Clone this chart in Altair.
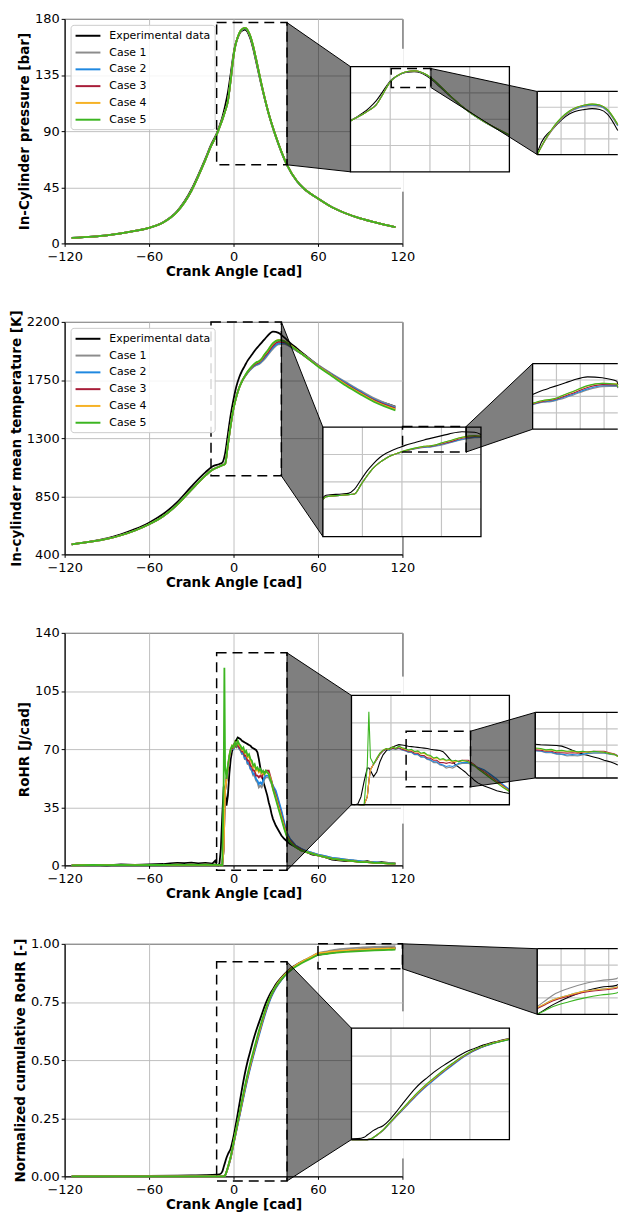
import altair as alt
import pandas as pd

SERIES = ["Experimental data", "Case 1", "Case 2", "Case 3", "Case 4", "Case 5"]
COLORS = ["#000000", "#8c8c8c", "#1f88e0", "#a81d38", "#f6b225", "#3cb521"]
XTITLE = "Crank Angle [cad]"
VIS = 273.0  # right edge of visible area (in crank-angle units of the main axis)

# ---------------- Panel 1 : in-cylinder pressure [bar]
PA = [-115, -100, -90, -80, -70, -60, -50, -40, -30, -25, -20, -16, -12, -10, -8, -6, -4, -2, 0, 1,
      3, 5, 7, 8, 9, 10, 12, 14, 16, 20, 25, 30, 38, 45, 50, 60, 70, 80, 90, 100, 115]
P_EXP = [4.5, 5.5, 6.5, 8, 10, 12.5, 17, 26, 43, 55, 68, 79, 88, 94, 101, 110, 121, 136, 152, 158,
         165, 169.5, 171, 171.3, 171, 169.5, 164, 156, 146, 126, 104, 86, 63, 50, 44, 36, 29, 24, 20, 17, 13]
P_C1 = [4.5, 5.5, 6.5, 8, 10, 12.5, 16.8, 25.5, 42, 54, 67, 78, 87, 93, 99, 106, 114, 131, 150, 157,
        165, 170, 172, 172.3, 172, 170.5, 165.5, 157.5, 147.5, 126.5, 103.5, 85.5, 62.5, 49.8, 43.8, 36, 29, 24, 20, 17, 13]
P_C2 = [4.5, 5.5, 6.5, 8, 10, 12.5, 16.8, 25.5, 42, 54, 67, 78, 87, 93, 99, 106, 114, 131, 150, 157,
        165.2, 170.2, 172.2, 172.5, 172.2, 170.7, 165.7, 157.7, 147.7, 126.7, 103.7, 85.7, 62.7, 49.9, 43.9, 36, 29, 24, 20, 17, 13]
P_C3 = [4.5, 5.5, 6.5, 8, 10, 12.5, 16.8, 25.5, 42, 54, 67, 78, 87, 93, 99, 106, 114, 131, 150, 157,
        165.3, 170.3, 172.4, 172.7, 172.4, 170.9, 165.9, 157.9, 148, 127, 104, 86, 63, 50, 44, 36, 29, 24, 20, 17, 13]
P_C4 = [4.5, 5.5, 6.5, 8, 10, 12.5, 16.8, 25.5, 42, 54, 67, 78, 87, 93, 99, 106, 114, 131, 150, 157,
        165.4, 170.4, 172.5, 172.8, 172.5, 171, 166, 158, 148, 127, 104, 86, 63, 50, 44, 36, 29, 24, 20, 17, 13]
P_C5 = [4.5, 5.5, 6.5, 8, 10, 12.5, 16.8, 25.5, 42, 54, 67, 78, 87, 93, 99, 106, 114, 131, 150, 157,
        165.5, 170.5, 172.5, 172.8, 172.5, 171, 166, 158, 148, 127, 104, 86, 63, 50, 44, 36, 29, 24, 20, 17, 13]

# ---------------- Panel 2 : in-cylinder mean temperature [K]
TA = [-115, -100, -90, -80, -70, -60, -50, -40, -30, -20, -15, -10, -8, -6, -4, -2, 0, 2, 4, 6,
      8, 10, 13, 16, 18, 20, 22, 24, 28, 32, 36, 40, 45, 50, 60, 70, 80, 90, 100, 115]
T_EXP = [478, 502, 524, 555, 595, 645, 712, 805, 925, 1035, 1080, 1100, 1110, 1180, 1330, 1480, 1600, 1700, 1770, 1820,
         1860, 1900, 1945, 1990, 2015, 2040, 2065, 2090, 2125, 2115, 2080, 2040, 1995, 1950, 1865, 1790, 1720, 1655, 1600, 1545]
T_C1 = [478, 500, 520, 548, 585, 633, 695, 785, 900, 1010, 1055, 1080, 1090, 1100, 1250, 1400, 1530, 1620, 1690, 1740,
        1775, 1805, 1840, 1865, 1872, 1890, 1912, 1938, 1992, 2025, 2030, 2010, 1975, 1942, 1866, 1797, 1732, 1668, 1608, 1542]
T_C2 = [478, 500, 520, 548, 585, 633, 695, 785, 900, 1010, 1055, 1080, 1090, 1100, 1250, 1400, 1530, 1620, 1690, 1740,
        1777, 1808, 1844, 1870, 1878, 1897, 1922, 1947, 2002, 2034, 2037, 2014, 1977, 1942, 1863, 1792, 1725, 1660, 1598, 1534]
T_C3 = [478, 500, 520, 548, 585, 633, 695, 785, 900, 1010, 1055, 1080, 1090, 1100, 1250, 1400, 1530, 1620, 1690, 1740,
        1778, 1811, 1849, 1877, 1886, 1905, 1932, 1958, 2016, 2045, 2043, 2017, 1978, 1940, 1860, 1787, 1718, 1653, 1592, 1528]
T_C4 = [478, 500, 520, 548, 585, 633, 695, 785, 900, 1010, 1055, 1080, 1090, 1100, 1250, 1400, 1530, 1620, 1690, 1740,
        1780, 1814, 1854, 1884, 1893, 1914, 1945, 1972, 2032, 2060, 2054, 2024, 1982, 1942, 1858, 1784, 1712, 1647, 1586, 1523]
T_C5 = [478, 500, 520, 548, 585, 633, 695, 785, 900, 1010, 1055, 1080, 1090, 1100, 1250, 1400, 1530, 1620, 1690, 1740,
        1780, 1815, 1855, 1885, 1895, 1915, 1948, 1975, 2035, 2058, 2050, 2020, 1980, 1940, 1855, 1780, 1705, 1640, 1580, 1515]

# ---------------- Panel 3 : RoHR [J/cad]
RA = [-115, -100, -90, -80, -70, -60, -50, -45, -40, -35, -30, -25, -20, -15, -13, -12, -11, -10, -9, -8,
      -7, -6.5, -6, -5, -4, -3, -2, -1, 0, 1, 2, 3, 4, 5, 6, 7, 8, 9, 10, 11,
      12, 13, 14, 15, 16, 17, 18, 19, 20, 21, 22, 23, 24, 25, 26, 27, 28, 30, 32, 34,
      36, 38, 40, 44, 48, 52, 56, 60, 65, 70, 75, 80, 85, 90, 95, 100, 105, 110, 115]
R_EXP = [0, 0.3, 0, 0.5, 0.2, 0.6, 0.8, 1.2, 1.5, 1.3, 1.6, 1.2, 1.5, 1.0, 2.8, 0.5, 0, 1, 10, 30,
         47, 47, 44, 36, 42, 55, 64, 69, 72, 74, 75.5, 77, 76.5, 76, 75, 74.5, 74, 73.5, 73, 72.5,
         72, 71, 70.5, 70, 69.5, 68, 64, 59, 55, 51, 48, 45, 42, 38, 35, 31, 28, 24, 21, 18,
         16, 14.5, 13, 11, 9, 8, 6.5, 6, 5, 3.5, 3, 2.5, 2.8, 2, 2.5, 1.5, 2, 1.5, 1]
R_C1 = [0, 0.2, 0.1, 0.2, 0.1, 0.3, 0.2, 0.3, 0.4, 0.3, 0.4, 0.3, 0.4, 0.3, 0.4, 0.3, 0.3, 0.3, 0.2, 0,
        10, 30, 45, 52, 58, 65, 69, 71, 70, 72, 71, 72, 70, 69, 67, 67, 64, 64, 61, 61,
        58, 57, 54, 54, 51, 50, 47, 48, 47, 49, 52, 53, 53, 53, 51, 49, 47, 44, 38, 32,
        25, 19, 16, 12, 10, 8.5, 7.5, 6.5, 5.5, 4.5, 4, 3.5, 3, 2.5, 2, 2, 1.5, 1.5, 1]
R_C2 = [0, 0.2, 0.1, 0.2, 0.1, 0.3, 0.2, 0.3, 0.4, 0.3, 0.4, 0.3, 0.4, 0.3, 0.4, 0.3, 0.3, 0.3, 0.2, 0,
        10, 30, 45, 52, 58, 65, 69, 71, 70, 72, 71.5, 72.5, 70.5, 69.5, 67.5, 67.5, 64.5, 64.5, 61.5, 61.5,
        58.5, 57.5, 55, 55, 52, 51, 49, 50, 49, 51, 53, 54, 54, 54, 52, 50, 48, 45, 39, 33,
        26, 19.5, 16, 12, 10, 8.5, 7.5, 6.5, 5.5, 4.5, 4, 3.5, 3, 2.5, 2, 2, 1.5, 1.5, 1]
R_C3 = [0, 0.2, 0.1, 0.2, 0.1, 0.3, 0.2, 0.3, 0.4, 0.3, 0.4, 0.3, 0.4, 0.3, 0.4, 0.3, 0.3, 0.3, 0.2, 0,
        10, 30, 45, 52, 58, 65, 69, 71, 70.5, 72.5, 71.5, 73, 71, 70, 68.5, 68.5, 66, 66, 63, 63,
        60, 59.5, 57, 57, 54, 54, 53, 54, 53, 55, 56, 57, 57, 57, 54, 51, 47, 42, 36, 30,
        24, 18, 15, 11.5, 9.5, 8, 7, 6, 5, 4, 3.5, 3, 2.5, 2, 2, 1.5, 1.5, 1, 1]
R_C4 = [0, 0.2, 0.1, 0.2, 0.1, 0.3, 0.2, 0.3, 0.4, 0.3, 0.4, 0.3, 0.4, 0.3, 0.4, 0.3, 0.3, 0.3, 0.2, 0,
        10, 30, 45, 52, 59, 66, 70, 72, 71, 74, 72.5, 74.5, 72.5, 71.5, 69.5, 70, 67.5, 68, 65, 66,
        63, 62, 59, 60, 57, 58, 56, 57, 55, 56, 55, 56, 56, 55, 53, 50, 46, 41, 35, 29,
        23, 17.5, 14.5, 11, 9, 8, 7, 6, 5, 4, 3.5, 3, 2.5, 2, 2, 1.5, 1.5, 1, 1]
R_C5 = [0, 0.2, 0.1, 0.2, 0.1, 0.3, 0.2, 0.3, 0.4, 0.3, 0.4, 0.3, 0.4, 0.3, 0.4, 0.3, 0.3, 0.3, 0.2, 0,
        50, 119, 60, 52, 60, 66, 70, 72, 71, 74, 72, 75, 73, 72, 70, 71, 68, 69, 66, 67,
        64, 63, 60, 61, 58, 59, 57, 58, 56, 57, 55, 57, 56, 55, 52, 50, 46, 40, 34, 28,
        22, 17, 14, 11, 9, 8, 7, 6, 5, 4, 3.5, 3, 2.5, 2, 2, 1.5, 1.5, 1, 1]

# ---------------- Panel 4 : normalized cumulative RoHR [-]
CA = [-115, -100, -80, -60, -40, -30, -20, -15, -12, -10, -8, -7, -6, -5, -4, -2, 0, 2, 4, 6,
      8, 10, 12, 14, 16, 18, 20, 22, 24, 26, 28, 30, 34, 38, 42, 46, 50, 55, 60, 65,
      70, 80, 90, 100, 110, 115]
C_EXP = [0, 0, 0.001, 0.002, 0.003, 0.004, 0.005, 0.006, 0.007, 0.008, 0.02, 0.04, 0.06, 0.08, 0.095, 0.12, 0.17, 0.235, 0.305, 0.375,
         0.44, 0.495, 0.54, 0.585, 0.625, 0.66, 0.695, 0.73, 0.76, 0.785, 0.805, 0.825, 0.855, 0.88, 0.9, 0.915, 0.928, 0.941, 0.952, 0.957,
         0.962, 0.97, 0.976, 0.98, 0.982, 0.983]
C_C1 = [0, 0, 0, 0, 0, 0, 0, 0, 0, 0, 0, 0, 0.004, 0.018, 0.037, 0.08, 0.14, 0.198, 0.256, 0.314,
        0.372, 0.426, 0.476, 0.522, 0.567, 0.611, 0.653, 0.694, 0.731, 0.763, 0.79, 0.812, 0.847, 0.875, 0.897, 0.914, 0.928, 0.944, 0.96, 0.966,
        0.972, 0.979, 0.984, 0.987, 0.989, 0.99]
C_C2 = [0, 0, 0, 0, 0, 0, 0, 0, 0, 0, 0, 0, 0.004, 0.018, 0.037, 0.079, 0.138, 0.195, 0.252, 0.309,
        0.366, 0.42, 0.47, 0.516, 0.561, 0.605, 0.648, 0.689, 0.727, 0.76, 0.787, 0.81, 0.845, 0.873, 0.895, 0.912, 0.926, 0.942, 0.958, 0.963,
        0.967, 0.972, 0.976, 0.978, 0.98, 0.981]
C_C3 = [0, 0, 0, 0, 0, 0, 0, 0, 0, 0, 0, 0, 0.004, 0.019, 0.038, 0.082, 0.141, 0.2, 0.258, 0.316,
        0.375, 0.429, 0.479, 0.525, 0.57, 0.614, 0.656, 0.697, 0.734, 0.766, 0.792, 0.813, 0.847, 0.874, 0.895, 0.912, 0.926, 0.941, 0.958, 0.962,
        0.966, 0.971, 0.975, 0.977, 0.979, 0.98]
C_C4 = [0, 0, 0, 0, 0, 0, 0, 0, 0, 0, 0, 0, 0.004, 0.019, 0.039, 0.083, 0.143, 0.202, 0.261, 0.32,
        0.379, 0.433, 0.483, 0.529, 0.574, 0.618, 0.66, 0.701, 0.738, 0.77, 0.796, 0.818, 0.851, 0.877, 0.898, 0.914, 0.928, 0.943, 0.959, 0.963,
        0.967, 0.972, 0.976, 0.978, 0.98, 0.981]
C_C5 = [0, 0, 0, 0, 0, 0, 0, 0, 0, 0, 0, 0, 0.004, 0.02, 0.04, 0.085, 0.145, 0.205, 0.265, 0.325,
        0.385, 0.44, 0.49, 0.535, 0.58, 0.625, 0.665, 0.705, 0.74, 0.77, 0.795, 0.815, 0.847, 0.873, 0.893, 0.908, 0.922, 0.937, 0.952, 0.956,
        0.96, 0.965, 0.969, 0.972, 0.974, 0.975]

# ---------------- zoom layout (main-axis units): dashed windows, inset boxes, inset windows
LAYOUT = {
    "P": dict(rect1=(-12, 38, 63, 177),
              ins1=dict(box=(83.1, 196.0, 57.4, 141.7), win=(-12, 38, 0, 180)),
              rect2=("ins1", 0.8, 13.3, 144.3, 176.8),
              ins2=dict(box=(215.8, 283.5, 71.2, 121.8), win=(0.8, 13.3, 156, 177)),
              gap=(20, 18)),
    "T": dict(rect1=(-16, 34, 1008, 2200),
              ins1=dict(box=(63.5, 175.8, 538, 1385), win=(-16, 34, 400, 2200)),
              rect2=("ins1", 9.2, 29.3, 1791, 2210),
              ins2=dict(box=(212.5, 280.2, 1369, 1877), win=(13, 39, 1590, 2260)),
              gap=None),
    "R": dict(rect1=(-12, 38, -3, 128),
              ins1=dict(box=(83.8, 196.0, 36.5, 102.3), win=(-12, 38, 0, 140)),
              rect2=("ins1", 5.3, 25.7, 22.9, 94.2),
              ins2=dict(box=(214.4, 282.1, 52.6, 92.1), win=(12, 30, 0, 140)),
              gap=(19, 19)),
    "C": dict(rect1=(-12, 38, -0.02, 0.923),
              ins1=dict(box=(83.8, 196.0, 0.158, 0.637), win=(-12, 38, 0, 0.97)),
              rect2=("main", 60, 120, 0.893, 1.0),
              ins2=dict(box=(215.8, 283.5, 0.697, 0.979), win=(60, 120, 0.952, 1.02)),
              gap=(19, 17)),
}


def long_df(ang, cols):
    rows = []
    for k, (name, vals) in enumerate(zip(SERIES, cols)):
        assert len(vals) == len(ang), (name, len(vals), len(ang))
        for a, v in zip(ang, vals):
            rows.append({"angle": a, "value": v, "series": name, "k": k})
    return pd.DataFrame(rows)


def to_main(ins, x, y):
    wx0, wx1, wy0, wy1 = ins["win"]
    bx0, bx1, by0, by1 = ins["box"]
    return (bx0 + (x - wx0) / (wx1 - wx0) * (bx1 - bx0),
            by0 + (y - wy0) / (wy1 - wy0) * (by1 - by0))


def build_panel(ang, cols, ydom, yvals, yfmt, ytitle, h, lay, interp):
    df = long_df(ang, cols)
    xs = alt.Scale(domain=[-120, 120], nice=False, zero=False)
    ys = alt.Scale(domain=ydom, nice=False, zero=False)
    xax = alt.Axis(values=[-120, -60, 0, 60, 120], title=XTITLE, labelFlush=False,
                   labelOverlap=False, titlePadding=1, tickSize=3, labelPadding=4)
    yax = alt.Axis(values=yvals, format=yfmt, title=ytitle, labelFlush=False,
                   labelOverlap=False, titlePadding=3)
    ypp = (ydom[1] - ydom[0]) / h   # data units per pixel (vertical)

    def X(f):
        return alt.X(f, type="quantitative", scale=xs, axis=xax)

    def Y(f):
        return alt.Y(f, type="quantitative", scale=ys, axis=yax)

    color = alt.Color("series:N", scale=alt.Scale(domain=SERIES, range=COLORS),
                      legend=alt.Legend(title=None))

    def rect_layer(x0, x1, y0, y1, **mk):
        d = pd.DataFrame({"x0": [x0], "x1": [x1], "y0": [y0], "y1": [y1]})
        return alt.Chart(d).mark_rect(**mk).encode(X("x0"), alt.X2("x1"), Y("y0"), alt.Y2("y1"))

    def dashed(x0, x1, y0, y1):
        return rect_layer(x0, x1, y0, y1, fillOpacity=0, stroke="black", strokeWidth=1.5,
                          strokeDash=[10, 6])

    def connector(xa, ya0, ya1, xb, yb0, yb1):
        d = pd.DataFrame({"cx": [xa, xb], "cy": [ya1, yb1], "cy2": [ya0, yb0]})
        return alt.Chart(d).mark_area(fill="black", fillOpacity=0.5, stroke="black",
                                      strokeWidth=1, interpolate="linear").encode(
            X("cx"), Y("cy"), alt.Y2("cy2"))

    def grid(ins, xlim):
        bx0, bx1, by0, by1 = ins["box"]
        gx = [bx0 + (bx1 - bx0) * k / 4 for k in (1, 2, 3)]
        gx = [g for g in gx if g <= xlim]
        gv = pd.DataFrame({"gx": gx, "gy0": [by0] * len(gx), "gy1": [by1] * len(gx)})
        gy = [by0 + (by1 - by0) * k / 4 for k in (1, 2, 3)]
        gh = pd.DataFrame({"gy": gy, "gx0": [bx0] * 3, "gx1": [min(bx1, xlim)] * 3})
        v = alt.Chart(gv).mark_rule(color="#c4c4c4", strokeWidth=1.2).encode(X("gx"), Y("gy0"), alt.Y2("gy1"))
        hz = alt.Chart(gh).mark_rule(color="#c4c4c4", strokeWidth=1.2).encode(Y("gy"), X("gx0"), alt.X2("gx1"))
        return [v, hz]

    def inset_lines(ins, xlim, sw):
        wx0, wx1, wy0, wy1 = ins["win"]
        bx0, bx1, by0, by1 = ins["box"]
        xmax = min(wx1, wx0 + (xlim - bx0) / (bx1 - bx0) * (wx1 - wx0))
        lo = max([a for a in ang if a <= wx0], default=min(ang))
        hi = min([a for a in ang if a >= xmax], default=max(ang))
        ex = f"{bx0} + (clamp(datum.angle, {wx0}, {xmax}) - ({wx0})) * {(bx1 - bx0) / (wx1 - wx0)}"
        ey = f"{by0} + (clamp(datum.value, {wy0}, {wy1}) - ({wy0})) * {(by1 - by0) / (wy1 - wy0)}"
        return (alt.Chart(df)
                .transform_filter(f"datum.angle >= {lo} && datum.angle <= {hi}")
                .transform_calculate(ix=ex, iy=ey)
                .mark_line(strokeWidth=sw, interpolate=interp)
                .encode(X("ix"), Y("iy"), color))

    layers = [alt.Chart(df).mark_line(strokeWidth=1.8, interpolate=interp).encode(
        X("angle"), Y("value"), color)]

    r1 = lay["rect1"]
    i1 = lay["ins1"]
    b1 = i1["box"]
    if lay["gap"]:
        below, above = lay["gap"]
        layers.append(rect_layer(119.0, 121.0, b1[2] - below * ypp, b1[3] + above * ypp,
                                 fill="white", strokeWidth=0))
    layers.append(dashed(*r1))
    layers.append(connector(r1[1], r1[2], r1[3], b1[0], b1[2], b1[3]))
    layers.append(rect_layer(*b1, fill="white", strokeWidth=0))
    layers += grid(i1, 1e9)
    layers.append(inset_lines(i1, 1e9, 1.1))
    layers.append(rect_layer(*b1, fillOpacity=0, stroke="black", strokeWidth=1.3))

    kind, rx0, rx1, ry0, ry1 = lay["rect2"]
    if kind == "ins1":
        rx0, ry0 = to_main(i1, rx0, ry0)
        rx1, ry1 = to_main(i1, rx1, ry1)
    i2 = lay["ins2"]
    b2 = i2["box"]
    layers.append(dashed(rx0, rx1, ry0, ry1))
    layers.append(connector(rx1, ry0, ry1, b2[0], b2[2], b2[3]))
    layers.append(rect_layer(b2[0], VIS, b2[2], b2[3], fill="white", strokeWidth=0))
    layers += grid(i2, VIS)
    layers.append(inset_lines(i2, VIS, 1.1))
    edges_h = pd.DataFrame({"ey": [b2[2], b2[3]], "ex0": [b2[0]] * 2, "ex1": [VIS] * 2})
    edges_v = pd.DataFrame({"ex": [b2[0]], "ey0": [b2[2]], "ey1": [b2[3]]})
    layers.append(alt.Chart(edges_h).mark_rule(color="black", strokeWidth=1.3).encode(
        Y("ey"), X("ex0"), alt.X2("ex1")))
    layers.append(alt.Chart(edges_v).mark_rule(color="black", strokeWidth=1.3).encode(
        X("ex"), Y("ey0"), alt.Y2("ey1")))

    return alt.layer(*layers).properties(width=340, height=h)


p1 = build_panel(PA, [P_EXP, P_C1, P_C2, P_C3, P_C4, P_C5], [0, 180], [0, 45, 90, 135, 180], "d",
                 "In-Cylinder pressure [bar]", 226, LAYOUT["P"], "monotone")
p2 = build_panel(TA, [T_EXP, T_C1, T_C2, T_C3, T_C4, T_C5], [400, 2200], [400, 850, 1300, 1750, 2200], "d",
                 "In-cylinder mean temperature [K]", 234, LAYOUT["T"], "monotone")
p3 = build_panel(RA, [R_EXP, R_C1, R_C2, R_C3, R_C4, R_C5], [0, 140], [0, 35, 70, 105, 140], "d",
                 "RoHR [J/cad]", 234, LAYOUT["R"], "linear")
p4 = build_panel(CA, [C_EXP, C_C1, C_C2, C_C3, C_C4, C_C5], [0, 1], [0, 0.25, 0.5, 0.75, 1.0], ".2f",
                 "Normalized cumulative RoHR [-]", 234, LAYOUT["C"], "monotone")

lower = alt.vconcat(p2, p3, p4, spacing=36)
chart = (alt.vconcat(p1, lower, spacing=30)
         .resolve_scale(x="independent", y="independent", color="independent")
         .resolve_legend(color="independent")
         .properties(padding={"left": 0, "top": 0, "right": 0, "bottom": 0})
         .configure(font="DejaVu Sans")
         .configure_axis(labelFont="DejaVu Sans", labelFontSize=13, labelColor="black",
                         titleFont="DejaVu Sans", titleFontSize=13.6, titleFontWeight="bold",
                         titleColor="black", domainColor="black", domainWidth=1,
                         tickColor="black", tickSize=3.5, labelPadding=2,
                         gridColor="#b8b8b8", gridWidth=0.9, gridOpacity=1)
         .configure_view(stroke="black", strokeWidth=1)
         .configure_legend(orient="top-left", offset=6, padding=4,
                           fillColor="rgba(255,255,255,0.85)", strokeColor="#cccccc",
                           cornerRadius=3, labelFont="DejaVu Sans", labelFontSize=11,
                           labelColor="black", symbolType="M-1,0H3.17", symbolSize=144,
                           symbolStrokeWidth=2, labelOffset=21, rowPadding=4.9, labelLimit=220))

chart.save("out.html", embed_options={"renderer": "svg", "actions": False})
